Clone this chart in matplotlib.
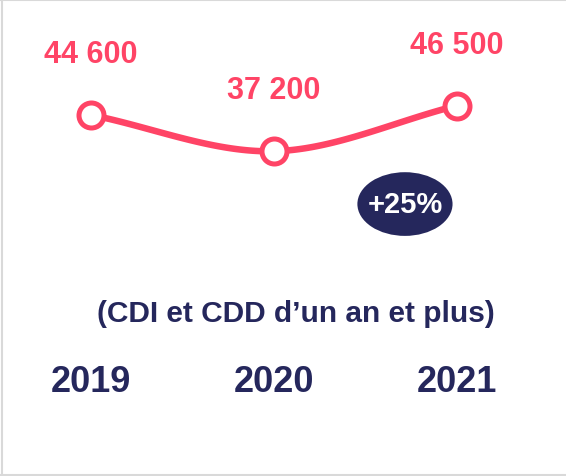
import numpy as np
import matplotlib
matplotlib.use("Agg")
import matplotlib.pyplot as plt
import matplotlib.patches as patches
from matplotlib.lines import Line2D

years = ["2019", "2020", "2021"]
values = [44600, 37200, 46500]
labels = ["44 600", "37 200", "46 500"]
change_label = "+25%"
subtitle = "(CDI et CDD d\u2019un an et plus)"

PINK = "#ff4466"
NAVY = "#25275c"
GREY = "#d9d9d9"
FONT = ["Liberation Sans", "DejaVu Sans"]

W, H = 566, 477


def smooth(xs, ys, n=60):
    # Catmull-Rom spline through the points
    xs = np.asarray(xs, float)
    ys = np.asarray(ys, float)
    px = np.concatenate([[2 * xs[0] - xs[1]], xs, [2 * xs[-1] - xs[-2]]])
    py = np.concatenate([[2 * ys[0] - ys[1]], ys, [2 * ys[-1] - ys[-2]]])
    out_x, out_y = [], []
    t = np.linspace(0, 1, n)
    for i in range(1, len(px) - 2):
        for p, out in ((px, out_x), (py, out_y)):
            p0, p1, p2, p3 = p[i - 1], p[i], p[i + 1], p[i + 2]
            out.extend(0.5 * (2 * p1 + (-p0 + p2) * t
                              + (2 * p0 - 5 * p1 + 4 * p2 - p3) * t ** 2
                              + (-p0 + 3 * p1 - 3 * p2 + p3) * t ** 3))
    return np.array(out_x), np.array(out_y)


fig = plt.figure(figsize=(W / 100, H / 100), dpi=100)
fig.patch.set_facecolor("white")
ax = fig.add_axes([0, 0, 1, 1])
ax.axis("off")

x = np.arange(len(years))
ax.set_xlim(-0.497, 2.596)
ax.set_ylim(-29080, 68265)

sx, sy = smooth(x, values)
ax.plot(sx, sy, color=PINK, linewidth=4.7, solid_capstyle="round", zorder=2)
ax.plot(x, values, linestyle="none", marker="o", markersize=18,
        markerfacecolor="white", markeredgecolor=PINK, markeredgewidth=3.6, zorder=3)

for xi, v, lab in zip(x, values, labels):
    ax.annotate(lab, (xi, v), xytext=(0, 44), textcoords="offset points",
                ha="center", va="center", fontsize=22, fontweight="bold",
                color=PINK, family=FONT)

# growth badge
ex, ey = 1.716, 26420
ax.add_patch(patches.Ellipse((ex, ey), 0.52, 13000, facecolor=NAVY,
                             edgecolor="none", zorder=3))
ax.text(ex, ey, change_label, ha="center", va="center", fontsize=21,
        fontweight="bold", color="white", family=FONT, zorder=4)

fig.text(296 / W, 1 - 314 / H, subtitle, ha="center", va="center",
         fontsize=21.5, fontweight="bold", color=NAVY, family=FONT)

for xi, yr in zip(x, years):
    ax.annotate(yr, (xi, 0), xycoords=("data", "figure fraction"),
                xytext=(xi, 1 - 383 / H), textcoords=("data", "figure fraction"),
                ha="center", va="center", fontsize=26, fontweight="bold",
                color=NAVY, family=FONT)

# frame on left, top and bottom
for (x0, y0, x1, y1) in [(1.5, 0, 1.5, H), (0, H - 0.5, W, H - 0.5), (0, 1.5, W, 1.5)]:
    fig.add_artist(Line2D([x0 / W, x1 / W], [y0 / H, y1 / H], color=GREY,
                          linewidth=1.5, transform=fig.transFigure))

fig.savefig("out.png", dpi=100)
